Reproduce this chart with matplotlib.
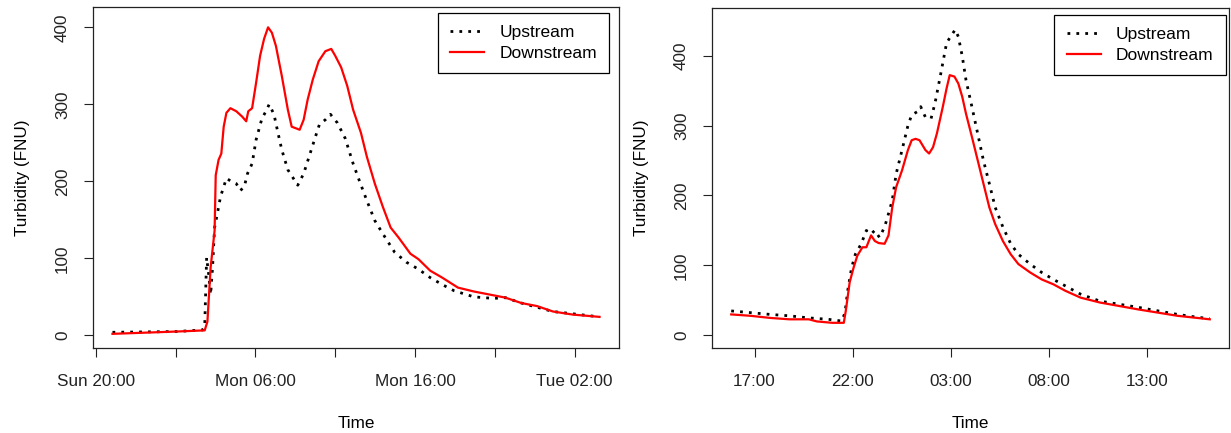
import matplotlib
matplotlib.use("Agg")
import matplotlib.pyplot as plt

plt.rcParams['font.family'] = ['Liberation Sans', 'DejaVu Sans']

# ---- event 1 (hours since Sunday 00:00) ----
ev1_up_t = [21.04, 25.08, 25.83, 26.69, 26.82, 26.94, 27.07, 27.19, 27.31, 27.44,
            27.61, 27.81, 28.18, 28.55, 28.80, 29.05, 29.30, 29.50, 29.79, 30.04,
            30.41, 30.66, 30.86, 31.16, 31.41, 31.65, 32.03, 32.65, 33.02, 33.39,
            33.76, 34.01, 34.38, 34.70, 35.13, 35.62, 36.12, 36.49, 36.98, 37.48,
            37.98, 38.72, 39.46, 40.21, 40.95, 41.70, 42.44, 43.68, 44.92, 45.66,
            46.66, 48.64, 51.56]
ev1_up = [4, 5, 6, 7, 12, 101, 79, 53, 88, 140,
          158, 180, 204, 199, 197, 188, 193, 210, 223, 254,
          282, 291, 300, 287, 263, 241, 215, 195, 210, 234,
          258, 274, 280, 287, 276, 256, 223, 202, 175, 149,
          132, 108, 95, 86, 75, 66, 58, 50, 48, 49,
          42, 31, 24]

ev1_down_t = [21.04, 25.08, 26.82, 26.99, 27.19, 27.44, 27.51, 27.69, 27.86, 28.01,
              28.18, 28.43, 28.80, 29.17, 29.42, 29.55, 29.79, 30.04, 30.29, 30.54,
              30.79, 31.03, 31.28, 31.65, 32.03, 32.27, 32.77, 33.02, 33.27, 33.59,
              33.96, 34.38, 34.75, 35.00, 35.37, 35.75, 36.12, 36.61, 36.98, 37.48,
              37.98, 38.47, 38.97, 39.71, 40.21, 40.95, 41.70, 42.69, 43.68, 44.92,
              45.66, 46.66, 47.65, 48.64, 49.88, 51.56]
ev1_down = [2, 5, 6.5, 18, 88, 136, 208, 228, 236, 271,
            289, 295, 291, 284, 278, 291, 295, 328, 363, 385,
            400, 393, 376, 337, 293, 271, 267, 280, 306, 332,
            356, 369, 372, 363, 348, 324, 293, 263, 232, 197,
            167, 140, 127, 106, 99, 84, 75, 62, 57, 52,
            49, 42, 38, 31, 27, 24]

ev1_ticks = [20, 25, 30, 35, 40, 45, 50]
ev1_labels = ['Sun 20:00', '', 'Mon 06:00', '', 'Mon 16:00', '', 'Tue 02:00']

# ---- event 2 (hours since day-1 00:00) ----
ev2_up_t = [15.81, 16.80, 17.79, 18.78, 19.77, 20.76, 21.45, 21.61, 21.75, 21.95,
            22.14, 22.44, 22.70, 22.94, 23.13, 23.37, 23.63, 23.83, 24.02, 24.22,
            24.52, 24.82, 25.01, 25.31, 25.47, 25.71, 26.00, 26.20, 26.50, 26.79,
            26.99, 27.23, 27.39, 27.59, 27.78, 28.08, 28.38, 28.67, 28.97, 29.27,
            29.66, 30.06, 30.45, 31.05, 31.64, 32.24, 32.83, 33.62, 34.61, 35.60,
            36.59, 37.58, 38.57, 39.56, 40.21]
ev2_up = [35, 32.5, 30, 28, 25, 23, 20.5, 32.5, 64, 97,
          116, 131, 150, 145, 150, 140, 155, 174, 193, 231,
          265, 300, 315, 320, 327, 312, 310, 332, 375, 418,
          427, 437, 427, 399, 365, 327, 288, 250, 217, 183,
          155, 131, 116, 102, 90, 80, 71, 59, 49, 44.5,
          40, 35, 30, 26, 24]

ev2_down_t = [15.81, 16.80, 17.79, 18.78, 19.77, 20.17, 20.96, 21.55, 21.65, 21.85,
              22.05, 22.24, 22.50, 22.70, 22.94, 23.13, 23.33, 23.63, 23.83, 24.02,
              24.22, 24.52, 24.82, 25.01, 25.21, 25.41, 25.71, 25.90, 26.10, 26.30,
              26.60, 26.79, 26.95, 27.19, 27.39, 27.59, 27.78, 28.08, 28.38, 28.67,
              28.97, 29.27, 29.66, 30.06, 30.45, 31.05, 31.64, 32.24, 32.83, 33.62,
              34.61, 35.60, 36.59, 37.58, 38.57, 39.56, 40.21]
ev2_down = [30, 28, 25, 23, 23, 20, 18, 18, 35, 76,
            97, 114, 126, 126, 143, 135, 132, 131, 143, 183,
            212, 236, 265, 279, 281, 279, 265, 260, 269, 289,
            327, 353, 372, 370, 360, 341, 317, 284, 250, 217,
            183, 159, 135, 116, 102, 90, 80, 73, 64, 54,
            47, 42, 37, 32.5, 28, 25, 23]

ev2_ticks = [17, 22, 27, 32, 37]
ev2_labels = ['17:00', '22:00', '03:00', '08:00', '13:00']

W, H = 1231, 433
fig = plt.figure(figsize=(W / 100, H / 100), dpi=100)

panels = [
    dict(rect=(93, 7, 619, 348), up=(ev1_up_t, ev1_up), down=(ev1_down_t, ev1_down),
         xlim=(19.82, 52.78), ylim=(-16.4, 426.4), ticks=ev1_ticks, labels=ev1_labels,
         legend_anchor=(0.981, 0.982)),
    dict(rect=(712, 8, 1229, 348), up=(ev2_up_t, ev2_up), down=(ev2_down_t, ev2_down),
         xlim=(14.83, 41.19), ylim=(-18, 468), ticks=ev2_ticks, labels=ev2_labels,
         legend_anchor=(0.994, 0.98)),
]

for p in panels:
    x0, y0, x1, y1 = p['rect']
    ax = fig.add_axes([x0 / W, (H - y1) / H, (x1 - x0) / W, (y1 - y0) / H])
    ax.plot(*p['up'], color='black', lw=2, linestyle=(0, (1, 2.2)), label='Upstream')
    ax.plot(*p['down'], color='red', lw=1.6, label='Downstream')
    ax.set_xlim(*p['xlim'])
    ax.set_ylim(*p['ylim'])
    ax.set_xticks(p['ticks'])
    ax.set_xticklabels(p['labels'])
    ax.set_yticks([0, 100, 200, 300, 400])
    ax.tick_params(axis='both', direction='out', length=6.5, width=0.8,
                   labelsize=12.3, colors='#222222')
    ax.tick_params(axis='x', pad=12)
    ax.tick_params(axis='y', pad=10)
    for lab in ax.get_yticklabels():
        lab.set_rotation(90)
        lab.set_va('center')
    for s in ax.spines.values():
        s.set_linewidth(0.9)
        s.set_color('#222222')
    ax.set_xlabel('Time', fontsize=12.3, labelpad=20)
    ax.set_ylabel('Turbidity (FNU)', fontsize=12.3, labelpad=18)
    leg = ax.legend(loc='upper right', bbox_to_anchor=p['legend_anchor'],
                    borderaxespad=0, fancybox=False, framealpha=1, edgecolor='black',
                    fontsize=12.5, handlelength=2.0, handletextpad=0.85,
                    labelspacing=0.32, borderpad=0.7)
    leg.get_frame().set_linewidth(0.9)

fig.savefig('out.png', dpi=100)
